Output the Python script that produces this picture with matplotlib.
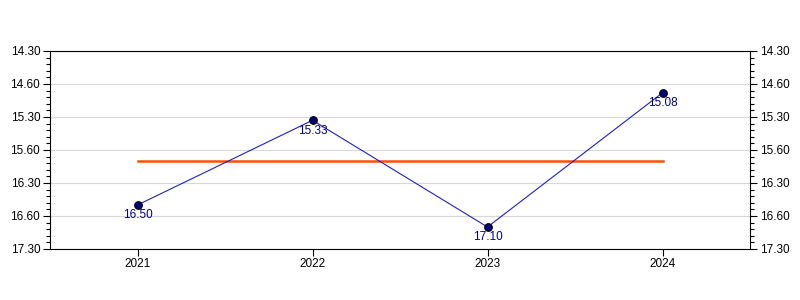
import matplotlib
matplotlib.use("Agg")
import matplotlib.pyplot as plt
from matplotlib.ticker import MultipleLocator

plt.rcParams['font.family'] = ['Liberation Sans', 'DejaVu Sans']

# times in seconds (min:sec shown as min.sec)
years = ["2021", "2022", "2023", "2024"]
times = [16*60+50, 15*60+33, 17*60+10, 15*60+8]
point_labels = ["16.50", "15.33", "17.10", "15.08"]
tick_vals = [870, 900, 930, 960, 990, 1020, 1050]
tick_labels = ["14.30", "14.60", "15.30", "15.60", "16.30", "16.60", "17.30"]
avg = sum(times) / len(times)

fig = plt.figure(figsize=(8, 3), dpi=100)
ax = fig.add_axes([50/800, 1-249/300, 700/800, 198/300])

x = list(range(len(years)))
ax.plot(x, times, color="#2020c0", lw=0.8, zorder=3)
ax.plot(x, times, 'o', ms=5.5, mfc="#000080", mec="black", mew=0.8, zorder=4)
ax.plot([x[0], x[-1]], [avg, avg], color="#ff5000", lw=1.8, zorder=2)
for xi, yi, lab in zip(x, times, point_labels):
    ax.text(xi, yi + 4, lab, color="#00008b", fontsize=8.5, ha="center", va="top", zorder=5)

ax.set_xlim(-0.5, 3.5)
ax.set_ylim(1050, 870)
ax.set_xticks(x)
ax.set_xticklabels(years, fontsize=8.5)
ax.set_yticks(tick_vals)
ax.set_yticklabels(tick_labels, fontsize=8.5)
ax.yaxis.set_minor_locator(MultipleLocator(6))
ax.tick_params(axis='y', which='both', left=True, right=True, labelleft=True, labelright=True)
ax.tick_params(axis='y', which='major', length=5, width=0.8, pad=2)
ax.tick_params(axis='y', which='minor', length=3, width=0.8)
ax.tick_params(axis='x', length=5, width=0.8, pad=1.5)
ax.grid(axis='y', color="#d8d8d8", lw=0.8)
ax.set_axisbelow(True)
for s in ax.spines.values():
    s.set_linewidth(0.8)

fig.savefig("out.png", dpi=100)
